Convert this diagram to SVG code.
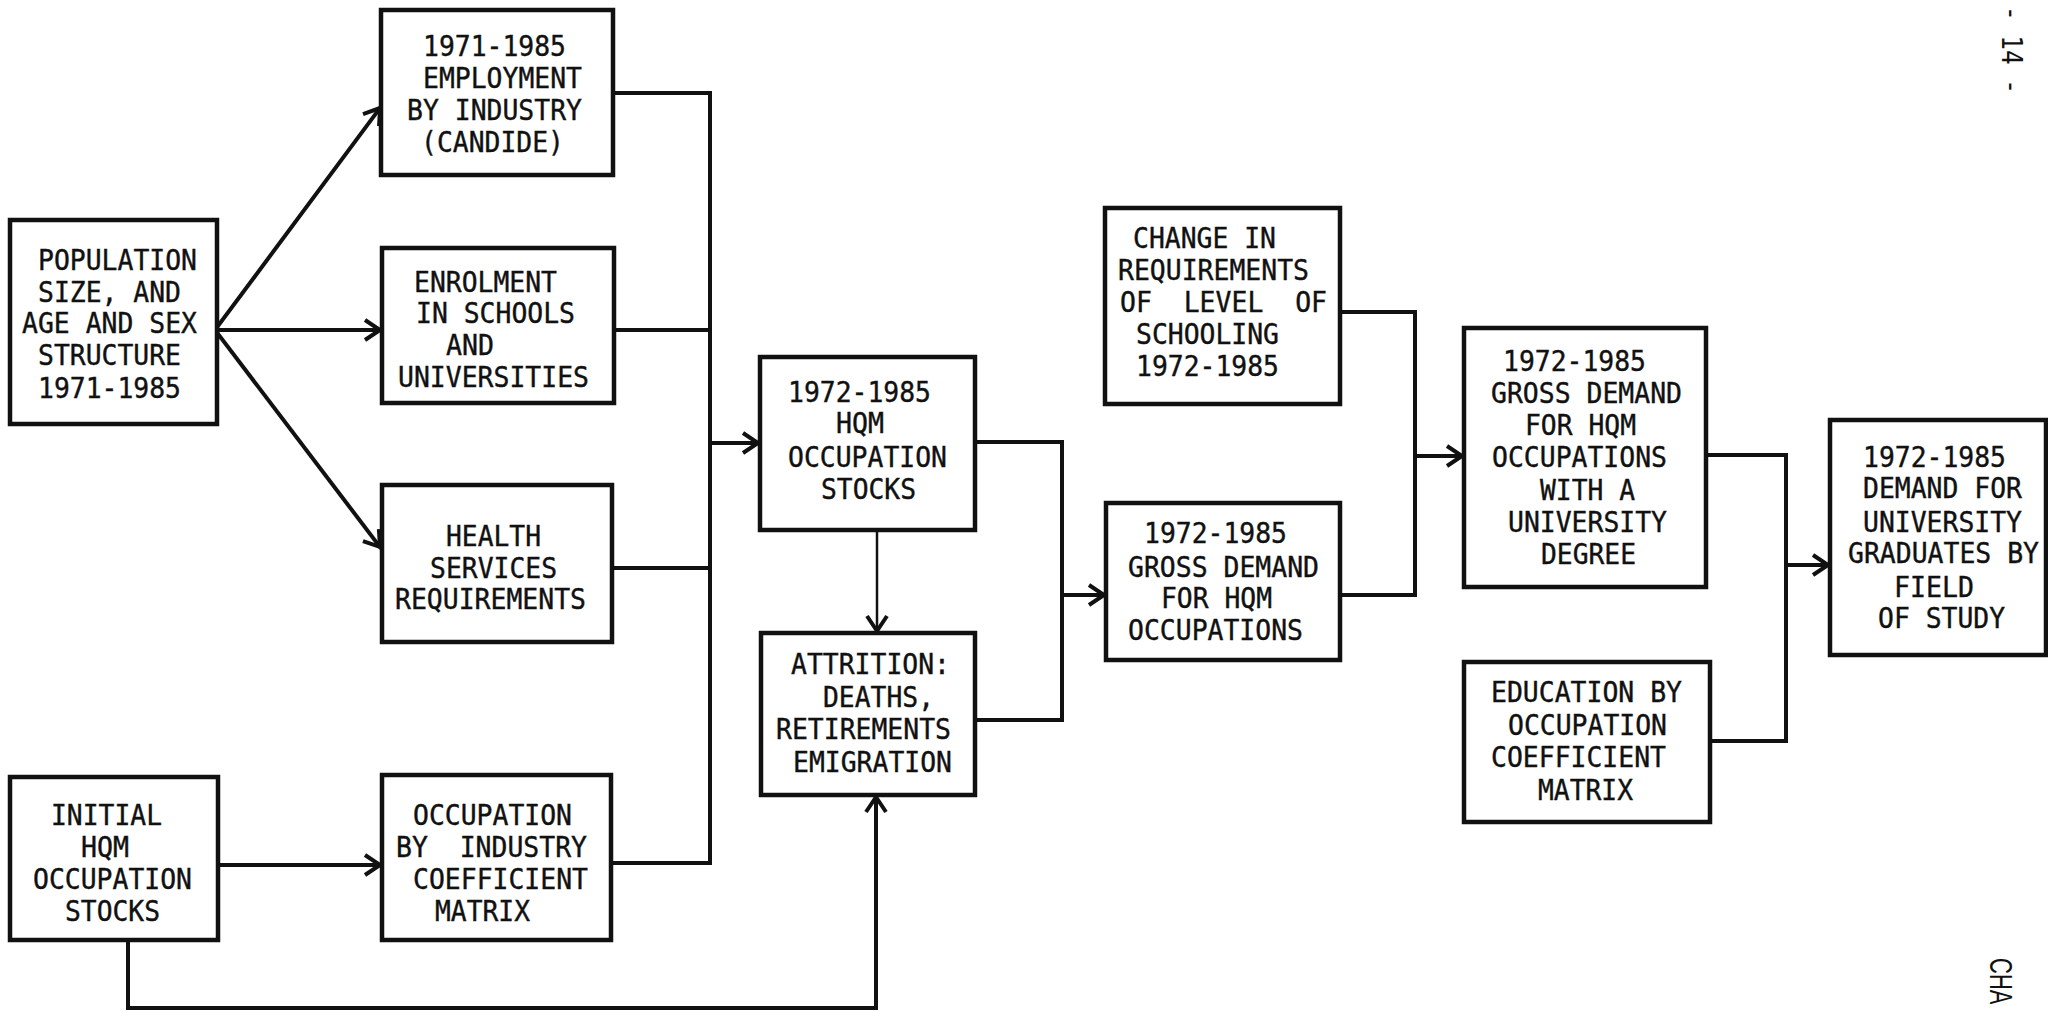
<svg xmlns="http://www.w3.org/2000/svg" width="2048" height="1012" viewBox="0 0 2048 1012">
<style>
.box{fill:#fff;stroke:#111;stroke-width:4.5}
.conn{fill:none;stroke:#111;stroke-width:4;stroke-linecap:square}
.thin{fill:none;stroke:#111;stroke-width:2.5}
.t{font-family:"DejaVu Sans Mono","Liberation Mono",monospace;font-size:28px;fill:#111;stroke:#111;stroke-width:0.4}
.pg{font-family:"DejaVu Sans Mono","Liberation Mono",monospace;font-size:28px;fill:#111}
.cha{font-family:"Liberation Sans",Arial,sans-serif;font-size:22px;fill:#111}
</style>
<defs>
<marker id="arr" markerUnits="userSpaceOnUse" markerWidth="24" markerHeight="24" viewBox="0 0 24 24" refX="20" refY="12" orient="auto">
<path d="M5,2 L20,12 L5,22" fill="none" stroke="#111" stroke-width="4"/>
</marker>
</defs>
<rect x="0" y="0" width="2048" height="1012" fill="#fff"/>

<g id="connectors">
<path class="conn" d="M215,330 L380,108" marker-end="url(#arr)"/>
<path class="conn" d="M215,330 L380,330" marker-end="url(#arr)"/>
<path class="conn" d="M215,330 L380,547" marker-end="url(#arr)"/>
<path class="conn" d="M613,93 H710 V863"/>
<path class="conn" d="M614,330 H710"/>
<path class="conn" d="M612,568 H710"/>
<path class="conn" d="M611,863 H710"/>
<path class="conn" d="M710,443 H758" marker-end="url(#arr)"/>
<path class="conn" d="M218,865 H380" marker-end="url(#arr)"/>
<path class="conn" d="M128,940 V1008 H876 V797" marker-end="url(#arr)"/>
<path class="thin" d="M877,530 V631" marker-end="url(#arr)"/>
<path class="conn" d="M975,442 H1062 V720 H975"/>
<path class="conn" d="M1062,595 H1104" marker-end="url(#arr)"/>
<path class="conn" d="M1340,312 H1415 V595 H1340"/>
<path class="conn" d="M1415,456 H1462" marker-end="url(#arr)"/>
<path class="conn" d="M1706,455 H1786 V741 H1710"/>
<path class="conn" d="M1786,565 H1828" marker-end="url(#arr)"/>
</g>

<g id="population">
<rect class="box" x="10" y="220" width="207" height="204"/>
<text class="t" x="38" y="270" textLength="159" lengthAdjust="spacingAndGlyphs">POPULATION</text>
<text class="t" x="38" y="302" textLength="143" lengthAdjust="spacingAndGlyphs">SIZE, AND</text>
<text class="t" x="22" y="333" textLength="175" lengthAdjust="spacingAndGlyphs">AGE AND SEX</text>
<text class="t" x="38" y="365" textLength="143" lengthAdjust="spacingAndGlyphs">STRUCTURE</text>
<text class="t" x="38" y="398" textLength="143" lengthAdjust="spacingAndGlyphs">1971-1985</text>
</g>

<g id="employment">
<rect class="box" x="381" y="10" width="232" height="165"/>
<text class="t" x="423" y="56" textLength="143" lengthAdjust="spacingAndGlyphs">1971-1985</text>
<text class="t" x="423" y="88" textLength="159" lengthAdjust="spacingAndGlyphs">EMPLOYMENT</text>
<text class="t" x="407" y="120" textLength="175" lengthAdjust="spacingAndGlyphs">BY INDUSTRY</text>
<text class="t" x="421" y="152" textLength="143" lengthAdjust="spacingAndGlyphs">(CANDIDE)</text>
</g>

<g id="enrolment">
<rect class="box" x="382" y="248" width="232" height="155"/>
<text class="t" x="414" y="292" textLength="143" lengthAdjust="spacingAndGlyphs">ENROLMENT</text>
<text class="t" x="416" y="323" textLength="159" lengthAdjust="spacingAndGlyphs">IN SCHOOLS</text>
<text class="t" x="446" y="355" textLength="48" lengthAdjust="spacingAndGlyphs">AND</text>
<text class="t" x="398" y="387" textLength="191" lengthAdjust="spacingAndGlyphs">UNIVERSITIES</text>
</g>

<g id="health">
<rect class="box" x="382" y="485" width="230" height="157"/>
<text class="t" x="446" y="546" textLength="95" lengthAdjust="spacingAndGlyphs">HEALTH</text>
<text class="t" x="430" y="578" textLength="127" lengthAdjust="spacingAndGlyphs">SERVICES</text>
<text class="t" x="395" y="609" textLength="191" lengthAdjust="spacingAndGlyphs">REQUIREMENTS</text>
</g>

<g id="initial">
<rect class="box" x="10" y="777" width="208" height="163"/>
<text class="t" x="51" y="825" textLength="111" lengthAdjust="spacingAndGlyphs">INITIAL</text>
<text class="t" x="81" y="857" textLength="48" lengthAdjust="spacingAndGlyphs">HQM</text>
<text class="t" x="33" y="889" textLength="159" lengthAdjust="spacingAndGlyphs">OCCUPATION</text>
<text class="t" x="65" y="921" textLength="95" lengthAdjust="spacingAndGlyphs">STOCKS</text>
</g>

<g id="occupation-industry">
<rect class="box" x="382" y="775" width="229" height="165"/>
<text class="t" x="413" y="825" textLength="159" lengthAdjust="spacingAndGlyphs">OCCUPATION</text>
<text class="t" x="396" y="857" textLength="191" lengthAdjust="spacingAndGlyphs" xml:space="preserve">BY  INDUSTRY</text>
<text class="t" x="413" y="889" textLength="175" lengthAdjust="spacingAndGlyphs">COEFFICIENT</text>
<text class="t" x="435" y="921" textLength="95" lengthAdjust="spacingAndGlyphs">MATRIX</text>
</g>

<g id="hqm-stocks">
<rect class="box" x="760" y="357" width="215" height="173"/>
<text class="t" x="788" y="402" textLength="143" lengthAdjust="spacingAndGlyphs">1972-1985</text>
<text class="t" x="836" y="433" textLength="48" lengthAdjust="spacingAndGlyphs">HQM</text>
<text class="t" x="788" y="467" textLength="159" lengthAdjust="spacingAndGlyphs">OCCUPATION</text>
<text class="t" x="821" y="499" textLength="95" lengthAdjust="spacingAndGlyphs">STOCKS</text>
</g>

<g id="attrition">
<rect class="box" x="761" y="633" width="214" height="162"/>
<text class="t" x="791" y="674" textLength="159" lengthAdjust="spacingAndGlyphs">ATTRITION:</text>
<text class="t" x="823" y="707" textLength="111" lengthAdjust="spacingAndGlyphs">DEATHS,</text>
<text class="t" x="776" y="739" textLength="175" lengthAdjust="spacingAndGlyphs">RETIREMENTS</text>
<text class="t" x="793" y="772" textLength="159" lengthAdjust="spacingAndGlyphs">EMIGRATION</text>
</g>

<g id="change-requirements">
<rect class="box" x="1105" y="208" width="235" height="196"/>
<text class="t" x="1133" y="248" textLength="143" lengthAdjust="spacingAndGlyphs">CHANGE IN</text>
<text class="t" x="1118" y="280" textLength="191" lengthAdjust="spacingAndGlyphs">REQUIREMENTS</text>
<text class="t" x="1120" y="312" textLength="207" lengthAdjust="spacingAndGlyphs" xml:space="preserve">OF  LEVEL  OF</text>
<text class="t" x="1136" y="344" textLength="143" lengthAdjust="spacingAndGlyphs">SCHOOLING</text>
<text class="t" x="1136" y="376" textLength="143" lengthAdjust="spacingAndGlyphs">1972-1985</text>
</g>

<g id="gross-demand">
<rect class="box" x="1106" y="503" width="234" height="157"/>
<text class="t" x="1144" y="543" textLength="143" lengthAdjust="spacingAndGlyphs">1972-1985</text>
<text class="t" x="1128" y="577" textLength="191" lengthAdjust="spacingAndGlyphs">GROSS DEMAND</text>
<text class="t" x="1161" y="608" textLength="111" lengthAdjust="spacingAndGlyphs">FOR HQM</text>
<text class="t" x="1128" y="640" textLength="175" lengthAdjust="spacingAndGlyphs">OCCUPATIONS</text>
</g>

<g id="gross-demand-university">
<rect class="box" x="1464" y="328" width="242" height="259"/>
<text class="t" x="1503" y="371" textLength="143" lengthAdjust="spacingAndGlyphs">1972-1985</text>
<text class="t" x="1491" y="403" textLength="191" lengthAdjust="spacingAndGlyphs">GROSS DEMAND</text>
<text class="t" x="1525" y="435" textLength="111" lengthAdjust="spacingAndGlyphs">FOR HQM</text>
<text class="t" x="1492" y="467" textLength="175" lengthAdjust="spacingAndGlyphs">OCCUPATIONS</text>
<text class="t" x="1540" y="500" textLength="95" lengthAdjust="spacingAndGlyphs">WITH A</text>
<text class="t" x="1508" y="532" textLength="159" lengthAdjust="spacingAndGlyphs">UNIVERSITY</text>
<text class="t" x="1541" y="564" textLength="95" lengthAdjust="spacingAndGlyphs">DEGREE</text>
</g>

<g id="education-occupation">
<rect class="box" x="1464" y="662" width="246" height="160"/>
<text class="t" x="1491" y="702" textLength="191" lengthAdjust="spacingAndGlyphs">EDUCATION BY</text>
<text class="t" x="1508" y="735" textLength="159" lengthAdjust="spacingAndGlyphs">OCCUPATION</text>
<text class="t" x="1491" y="767" textLength="175" lengthAdjust="spacingAndGlyphs">COEFFICIENT</text>
<text class="t" x="1538" y="800" textLength="95" lengthAdjust="spacingAndGlyphs">MATRIX</text>
</g>

<g id="demand-graduates">
<rect class="box" x="1830" y="420" width="216" height="235"/>
<text class="t" x="1863" y="467" textLength="143" lengthAdjust="spacingAndGlyphs">1972-1985</text>
<text class="t" x="1863" y="498" textLength="159" lengthAdjust="spacingAndGlyphs">DEMAND FOR</text>
<text class="t" x="1863" y="532" textLength="159" lengthAdjust="spacingAndGlyphs">UNIVERSITY</text>
<text class="t" x="1848" y="563" textLength="191" lengthAdjust="spacingAndGlyphs">GRADUATES BY</text>
<text class="t" x="1894" y="597" textLength="80" lengthAdjust="spacingAndGlyphs">FIELD</text>
<text class="t" x="1878" y="628" textLength="127" lengthAdjust="spacingAndGlyphs">OF STUDY</text>
</g>

<g id="page-marks">
<text class="pg" transform="translate(2002,6) rotate(90)" x="0" y="0" textLength="88" lengthAdjust="spacingAndGlyphs" xml:space="preserve">- 14 -</text>
<text class="cha" transform="translate(1990,958) rotate(90) scale(1,1.45)" x="0" y="0">CHA</text>
</g>
</svg>
